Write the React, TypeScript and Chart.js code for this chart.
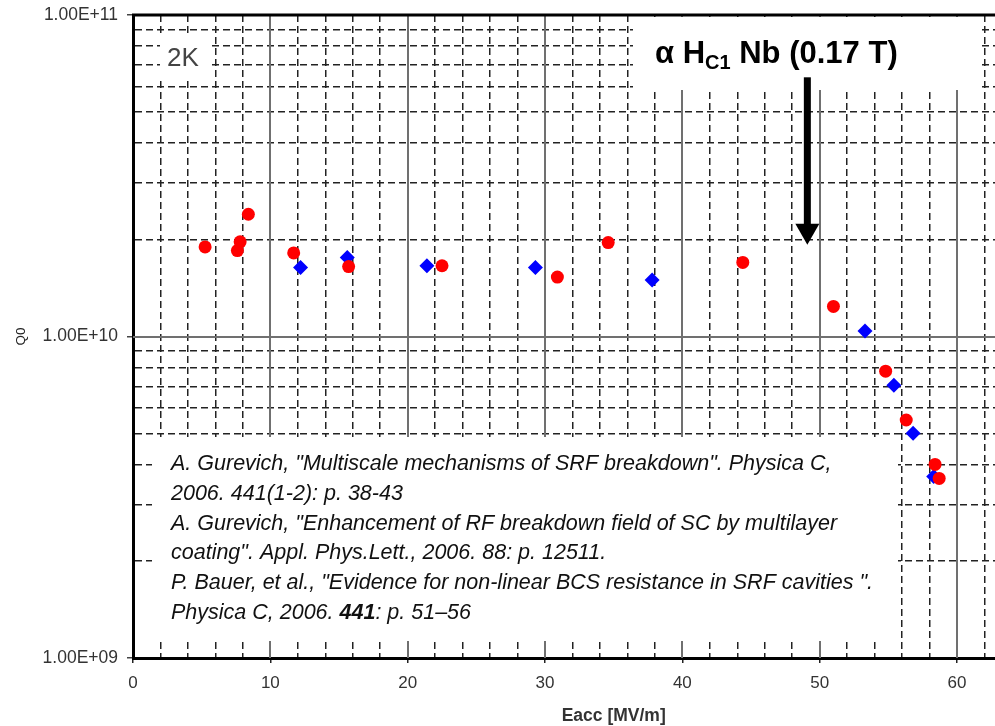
import { useEffect, useRef } from 'react';
import { Chart, registerables } from 'chart.js';

Chart.register(...registerables);

// ---- data ----
const redEacc = [5.25, 7.6, 7.8, 8.4, 11.7, 15.7, 22.5, 30.9, 34.6, 44.4, 51.0, 54.8, 56.3, 58.4, 58.7];
const redQ0 = [1.9e10, 1.85e10, 1.97e10, 2.4e10, 1.82e10, 1.65e10, 1.66e10, 1.53e10, 1.96e10, 1.7e10, 1.24e10, 7.8e9, 5.5e9, 4.0e9, 3.62e9];
const blueEacc = [12.2, 15.6, 21.4, 29.3, 37.8, 53.3, 55.4, 56.8, 58.3];
const blueQ0 = [1.64e10, 1.76e10, 1.66e10, 1.64e10, 1.5e10, 1.04e10, 7.05e9, 5.0e9, 3.67e9];

// ---- axes ----
const xGridValues = [0, 2, 4, 6, 8, 10, 12, 14, 16, 18, 20, 22, 24, 26, 28, 30, 32, 34, 36, 38, 40, 42, 44, 46, 48, 50, 52, 54, 56, 58, 60, 62];
const xMajorValues = [0, 10, 20, 30, 40, 50, 60];
const xTickLabels = ['0', '10', '20', '30', '40', '50', '60'];
const yGridValues = [1e9, 2e9, 3e9, 4e9, 5e9, 6e9, 7e9, 8e9, 9e9, 1e10, 2e10, 3e10, 4e10, 5e10, 6e10, 7e10, 8e10, 9e10, 1e11];
const yMajorValues = [1e9, 1e10, 1e11];
const yTickLabels = ['1.00E+09', '1.00E+10', '1.00E+11'];
const xTitle = 'Eacc [MV/m]';
const yTitle = 'Q0';

// ---- annotations ----
const tempLabel = '2K';
const hc1Parts = ['α H', 'C1', ' Nb (0.17 T)'];
const arrowEacc = 49.1;
const arrowTipQ0 = 1.93e10;
const arrowTailQ0 = 6.4e10;
const referenceLines: { text: string; bold?: boolean }[][] = [
  [{ text: 'A. Gurevich, "Multiscale mechanisms of SRF breakdown". Physica C,' }],
  [{ text: '2006. 441(1-2): p. 38-43' }],
  [{ text: 'A. Gurevich, "Enhancement of RF breakdown field of SC by multilayer' }],
  [{ text: 'coating". Appl. Phys.Lett., 2006. 88: p. 12511.' }],
  [{ text: 'P. Bauer, et al., "Evidence for non-linear BCS resistance in SRF cavities ".' }],
  [{ text: 'Physica C, 2006. ' }, { text: '441', bold: true }, { text: ': p. 51–56' }],
];

const FONT = 'Arial, "Liberation Sans", sans-serif';
const DASH_COLOR = '#222';
const TRANSPARENT = 'rgba(0,0,0,0)';

const isXMajor = (v: number) => xMajorValues.includes(v);
const isYMajor = (v: number) => yMajorValues.includes(v);

const overlayPlugin = {
  id: 'overlay',
  beforeDatasetsDraw(chart: any) {
    const { ctx, chartArea } = chart;
    const { left, right, top, bottom } = chartArea;
    const xs = chart.scales.x;
    const ys = chart.scales.y;
    ctx.save();
    // solid major grid lines
    ctx.strokeStyle = '#707070';
    ctx.lineWidth = 2;
    ctx.setLineDash([]);
    xMajorValues.forEach((v) => {
      if (v === 0) return;
      const px = Math.round(xs.getPixelForValue(v));
      ctx.beginPath();
      ctx.moveTo(px, top);
      ctx.lineTo(px, bottom);
      ctx.stroke();
    });
    yMajorValues.forEach((v) => {
      if (v === 1e9 || v === 1e11) return;
      const py = Math.round(ys.getPixelForValue(v));
      ctx.beginPath();
      ctx.moveTo(left, py);
      ctx.lineTo(right, py);
      ctx.stroke();
    });
    // white boxes behind annotations
    ctx.fillStyle = '#ffffff';
    ctx.fillRect(160, 33, 52, 44);
    ctx.fillRect(633, 17, 347, 73);
    ctx.fillRect(152, 437, 746, 204);
    // top frame line
    ctx.strokeStyle = '#000';
    ctx.lineWidth = 3;
    ctx.beginPath();
    ctx.moveTo(left - 1, top);
    ctx.lineTo(right, top);
    ctx.stroke();
    ctx.restore();
  },
  afterDatasetsDraw(chart: any) {
    const { ctx } = chart;
    const xs = chart.scales.x;
    const ys = chart.scales.y;
    ctx.save();
    ctx.textBaseline = 'alphabetic';
    ctx.textAlign = 'left';

    // 2K
    ctx.fillStyle = '#444';
    ctx.font = `26px ${FONT}`;
    ctx.fillText(tempLabel, 167, 66);

    // alpha Hc1 label
    ctx.fillStyle = '#000';
    let tx = 655;
    ctx.font = `bold 31px ${FONT}`;
    ctx.fillText(hc1Parts[0], tx, 63);
    tx += ctx.measureText(hc1Parts[0]).width;
    ctx.font = `bold 20px ${FONT}`;
    ctx.fillText(hc1Parts[1], tx, 69);
    tx += ctx.measureText(hc1Parts[1]).width;
    ctx.font = `bold 31px ${FONT}`;
    ctx.fillText(hc1Parts[2], tx, 63);

    // arrow
    const ax = xs.getPixelForValue(arrowEacc);
    const tipY = ys.getPixelForValue(arrowTipQ0);
    const tailY = ys.getPixelForValue(arrowTailQ0);
    const headH = 21;
    ctx.fillStyle = '#000';
    ctx.fillRect(ax - 3.5, tailY, 7, tipY - headH - tailY + 1);
    ctx.beginPath();
    ctx.moveTo(ax - 12, tipY - headH);
    ctx.lineTo(ax + 12, tipY - headH);
    ctx.lineTo(ax, tipY);
    ctx.closePath();
    ctx.fill();

    // references
    ctx.fillStyle = '#111';
    referenceLines.forEach((segs, i) => {
      let rx = 171;
      const ry = 470 + i * 29.8;
      segs.forEach((s) => {
        ctx.font = `italic ${s.bold ? 'bold ' : ''}21.5px ${FONT}`;
        ctx.fillText(s.text, rx, ry);
        rx += ctx.measureText(s.text).width;
      });
    });

    // x axis title
    ctx.fillStyle = '#333';
    ctx.font = `bold 17.5px ${FONT}`;
    ctx.textAlign = 'center';
    ctx.fillText(xTitle, xs.getPixelForValue(35), 721);
    ctx.restore();
  },
};

export default function App() {
  const canvasRef = useRef<HTMLCanvasElement | null>(null);

  useEffect(() => {
    if (!canvasRef.current) return;
    Chart.defaults.font.family = FONT;
    const chart = new Chart(canvasRef.current, {
      type: 'scatter',
      data: {
        datasets: [
          {
            label: 'red',
            data: redEacc.map((e, i) => ({ x: e, y: redQ0[i] })),
            pointStyle: 'circle',
            pointRadius: 6.5,
            pointBackgroundColor: '#ff0000',
            pointBorderWidth: 0,
            pointBorderColor: '#ff0000',
          },
          {
            label: 'blue',
            data: blueEacc.map((e, i) => ({ x: e, y: blueQ0[i] })),
            pointStyle: 'rectRot',
            pointRadius: 7.5,
            pointBackgroundColor: '#0000ff',
            pointBorderWidth: 0,
            pointBorderColor: '#0000ff',
          },
        ],
      },
      options: {
        animation: false,
        responsive: false,
        devicePixelRatio: 1,
        layout: { padding: { top: 15, right: 0, bottom: 0, left: 0 } },
        plugins: { legend: { display: false }, tooltip: { enabled: false } },
        scales: {
          x: {
            type: 'linear',
            min: 0,
            max: 62.8,
            afterBuildTicks: (s: any) => {
              s.ticks = xGridValues.map((v) => ({ value: v }));
            },
            afterFit: (s: any) => {
              s.height = 68;
              s.paddingLeft = 0;
              s.paddingRight = 0;
            },
            ticks: {
              autoSkip: false,
              maxRotation: 0,
              padding: 10,
              color: '#333',
              font: { size: 17 },
              callback: (v: any) => {
                const i = xMajorValues.indexOf(Number(v));
                return i >= 0 ? xTickLabels[i] : '';
              },
            },
            grid: {
              color: (c: any) => (c.tick && isXMajor(c.tick.value) ? TRANSPARENT : DASH_COLOR),
              lineWidth: 1.5,
              tickLength: 5,
              tickWidth: 1.5,
              tickColor: (c: any) => (c.tick && isXMajor(c.tick.value) ? '#222' : TRANSPARENT),
            },
            border: { display: true, color: '#000', width: 3, dash: [7, 4] },
          },
          y: {
            type: 'logarithmic',
            min: 1e9,
            max: 1e11,
            afterBuildTicks: (s: any) => {
              s.ticks = yGridValues.map((v) => ({ value: v }));
            },
            afterFit: (s: any) => {
              s.width = 133;
              s.paddingTop = 0;
              s.paddingBottom = 0;
            },
            ticks: {
              autoSkip: false,
              padding: 9,
              color: '#333',
              font: { size: 17.5 },
              callback: (v: any) => {
                const i = yMajorValues.indexOf(Number(v));
                return i >= 0 ? yTickLabels[i] : '';
              },
            },
            grid: {
              color: (c: any) => (c.tick && isYMajor(c.tick.value) ? TRANSPARENT : DASH_COLOR),
              lineWidth: 1.5,
              tickLength: 6,
              tickWidth: 1.5,
              tickColor: (c: any) => (c.tick && isYMajor(c.tick.value) ? '#444' : TRANSPARENT),
            },
            border: { display: true, color: '#000', width: 3, dash: [7, 4] },
            title: {
              display: true,
              text: yTitle,
              color: '#222',
              font: { size: 13.5 },
              padding: { top: 13, bottom: 0 },
            },
          },
        },
      },
      plugins: [overlayPlugin],
    });
    return () => chart.destroy();
  }, []);

  return (
    <div style={{ position: 'fixed', left: 0, top: 0, width: 995, height: 726, overflow: 'hidden', background: '#fff' }}>
      <canvas ref={canvasRef} width={1003} height={726} style={{ display: 'block', width: 1003, height: 726 }} />
    </div>
  );
}
